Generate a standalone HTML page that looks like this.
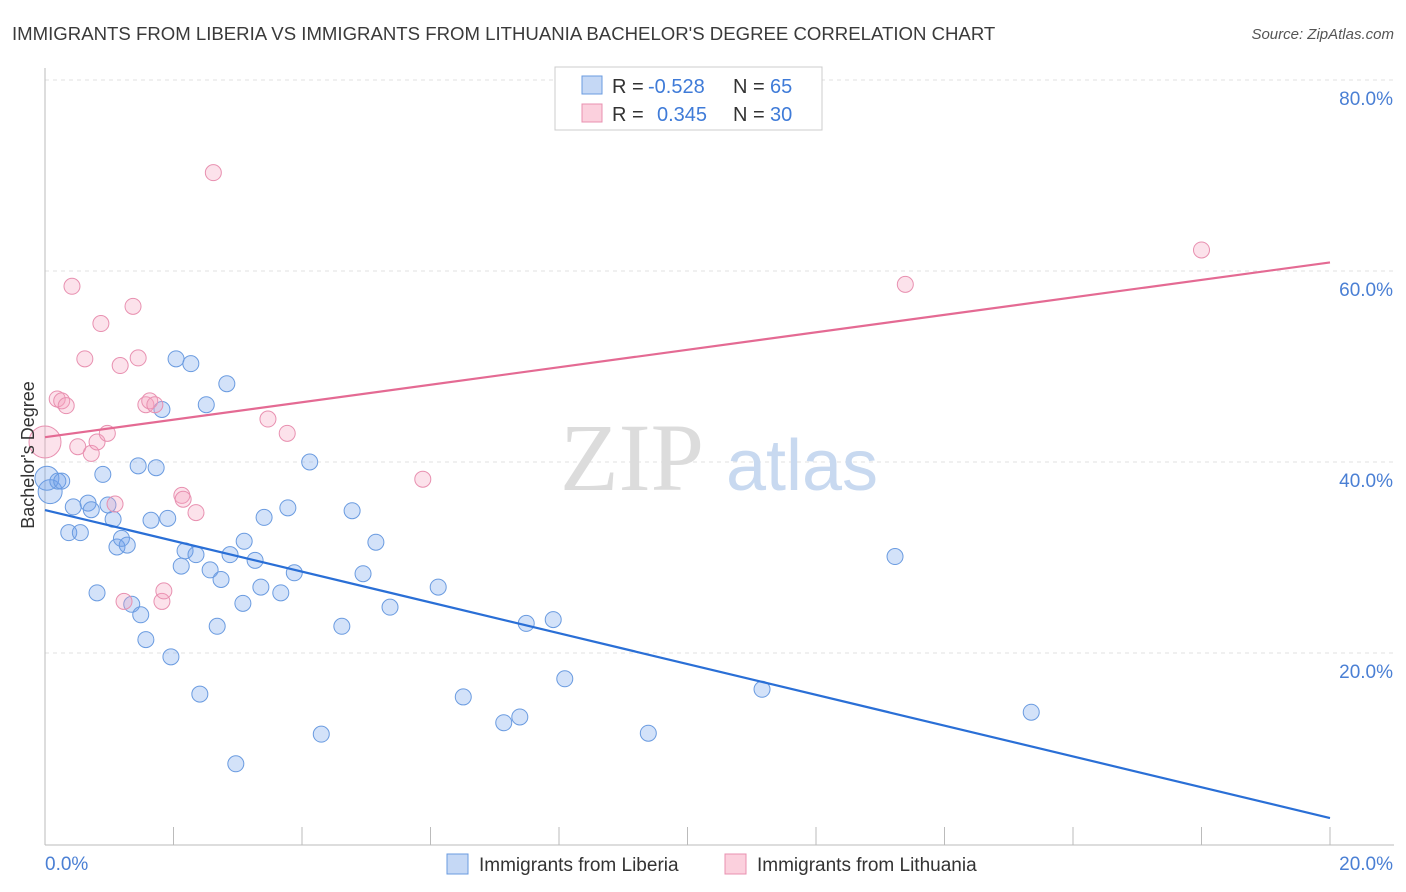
<!DOCTYPE html>
<html><head><meta charset="utf-8">
<style>
body{margin:0;background:#fff;font-family:"Liberation Sans",sans-serif;}
#wrap{position:relative;width:1406px;height:892px;overflow:hidden;}
</style></head>
<body>
<div id="wrap">
<svg id="svg" width="1406" height="892" xmlns="http://www.w3.org/2000/svg">
<text x="12" y="40" font-size="18.6" fill="#3a3a3a">IMMIGRANTS FROM LIBERIA VS IMMIGRANTS FROM LITHUANIA BACHELOR'S DEGREE CORRELATION CHART</text>
<text x="1394" y="39" font-size="15" fill="#555" text-anchor="end" font-style="italic">Source: ZipAtlas.com</text>
<g id="grid"></g>
<text x="632" y="490" font-size="96" fill="#dcdcdc" font-family="Liberation Serif,serif" text-anchor="middle">ZIP</text>
<text x="802" y="490" font-size="72" fill="#c8d9f0" text-anchor="middle">atlas</text>
<g id="axes"></g>
<g id="pts"></g>
<g id="lines"></g>
<text transform="translate(34,455) rotate(-90)" font-size="18" fill="#333" text-anchor="middle">Bachelor's Degree</text>
<g>
<rect x="555" y="67" width="267" height="63" fill="#fff" stroke="#ccc"/>
<rect x="582" y="76" width="20" height="18" fill="#c5d8f5" stroke="#6a9be0"/>
<rect x="582" y="104" width="20" height="18" fill="#fbd0dd" stroke="#e890b0"/>
<text x="612" y="93" font-size="20" fill="#333">R =</text>
<text x="648" y="93" font-size="20" fill="#3f7bd8">-0.528</text>
<text x="733" y="93" font-size="20" fill="#333">N =</text>
<text x="770" y="93" font-size="20" fill="#3f7bd8">65</text>
<text x="612" y="121" font-size="20" fill="#333">R =</text>
<text x="657" y="121" font-size="20" fill="#3f7bd8">0.345</text>
<text x="733" y="121" font-size="20" fill="#333">N =</text>
<text x="770" y="121" font-size="20" fill="#3f7bd8">30</text>
</g>
<g>
<rect x="447" y="854" width="21" height="20" fill="#c5d8f5" stroke="#6a9be0"/>
<text x="479" y="871" font-size="19" fill="#333">Immigrants from Liberia</text>
<rect x="725" y="854" width="21" height="20" fill="#fbd0dd" stroke="#e890b0"/>
<text x="757" y="871" font-size="19" fill="#333">Immigrants from Lithuania</text>
</g>
</svg>
</div>
<script>
const yTicks=[20,40,60,80];
const yTickLabels=["20.0%","40.0%","60.0%","80.0%"];
const xTickLabels=["0.0%","20.0%"];
const liberiaX=[0.08,0.03,0.2,0.26,0.37,0.44,0.55,0.67,0.72,0.81,0.9,0.98,1.06,1.12,1.19,1.28,1.35,1.45,1.49,1.57,1.65,1.73,1.82,1.91,1.96,2.04,2.12,2.18,2.27,2.35,2.41,2.51,2.57,2.68,2.74,2.83,2.88,2.97,3.08,3.1,3.27,3.36,3.41,3.67,3.78,3.88,4.12,4.3,4.62,4.78,4.95,5.15,5.37,6.12,6.51,7.14,7.39,7.49,7.91,8.09,9.39,11.16,13.23,15.35];
const liberiaY=[36.9,38.3,38.0,38.0,32.6,35.3,32.6,35.7,35.0,26.3,38.7,35.5,34.0,31.1,32.0,31.3,25.1,39.6,24.0,21.4,33.9,39.4,45.5,34.1,19.6,50.8,29.1,30.7,50.3,30.3,15.7,46.0,28.7,22.8,27.7,48.2,30.3,8.4,25.2,31.7,29.7,26.9,34.2,26.3,35.2,28.4,40.0,11.5,22.8,34.9,28.3,31.6,24.8,26.9,15.4,12.7,13.3,23.1,23.5,17.3,11.6,16.2,30.1,13.8];
const lithX=[0,0.19,0.26,0.33,0.42,0.51,0.62,0.72,0.81,0.87,0.97,1.09,1.17,1.23,1.37,1.45,1.57,1.63,1.71,1.82,1.85,2.13,2.15,2.35,2.62,3.47,3.77,5.88,13.39,18.0];
const lithY=[42.1,46.6,46.4,45.9,58.4,41.6,50.8,40.9,42.1,54.5,43.0,35.6,50.1,25.4,56.3,50.9,46.0,46.4,46.0,25.4,26.5,36.5,36.1,34.7,70.3,44.5,43.0,38.2,58.6,62.2];
const liberiaTrend=[34.97,2.72];
const lithTrend=[42.6,60.9];
const NS="http://www.w3.org/2000/svg";
const sx=v=>45+v*64.25, sy=v=>844-v*9.55;
function mk(tag,attrs,parent){const e=document.createElementNS(NS,tag);for(const k in attrs)e.setAttribute(k,attrs[k]);document.getElementById(parent).appendChild(e);return e;}
yTicks.forEach((t,i)=>{
 const l=mk('line',{x1:45,x2:1394,y1:sy(t),y2:sy(t),stroke:'#e2e2e2','stroke-dasharray':'4,4'},'grid');
 
 
 const tx=mk('text',{x:1393,y:sy(t)+25,'font-size':19,fill:'#4a7fd4','text-anchor':'end'},'axes');
 tx.textContent=yTickLabels[i];
 
 
});
const ax=mk('line',{x1:45,x2:1394,y1:845,y2:845,stroke:'#bbb'},'axes');


const ay=mk('line',{x1:45,x2:45,y1:68,y2:845,stroke:'#bbb'},'axes');


for(let i=0;i<=10;i++){
 const t=mk('line',{x1:sx(i*2),x2:sx(i*2),y1:827,y2:845,stroke:'#bbb'},'axes');
 
 
}
[[0,45,'start'],[1,1393,'end']].forEach(([i,x,a])=>{
 const t=mk('text',{x:x,y:870,'font-size':19,fill:'#4a7fd4','text-anchor':a},'axes');
 t.textContent=xTickLabels[i];
 
 
});
liberiaX.forEach((x,i)=>{
 const r=(i<2)?12:8;
 const c=mk('circle',{cx:sx(x),cy:sy(liberiaY[i]),r:r,fill:'rgba(110,160,235,0.3)',stroke:'#6a9be0','stroke-width':1},'pts');
 
 
});
lithX.forEach((x,i)=>{
 const r=(i==0)?16:8;
 const c=mk('circle',{cx:sx(x),cy:sy(lithY[i]),r:r,fill:'rgba(245,160,190,0.3)',stroke:'#e890b0','stroke-width':1},'pts');
 
 
});
const bl=mk('line',{x1:sx(0),x2:sx(20),y1:sy(liberiaTrend[0]),y2:sy(liberiaTrend[1]),stroke:'#2a6fd6','stroke-width':2.2},'lines');


const pl=mk('line',{x1:sx(0),x2:sx(20),y1:sy(lithTrend[0]),y2:sy(lithTrend[1]),stroke:'#e46a93','stroke-width':2.2},'lines');


</script>
</body></html>
